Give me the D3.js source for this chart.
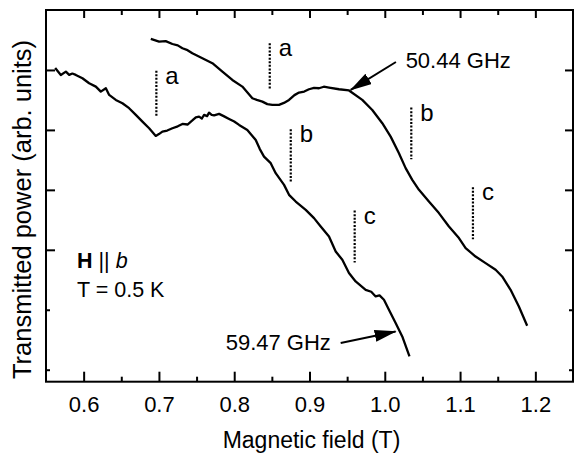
<!DOCTYPE html>
<html><head><meta charset="utf-8">
<script src="https://cdn.jsdelivr.net/npm/d3@7"></script>
<style>
html,body{margin:0;padding:0;background:#fff;}
svg{display:block;font-family:"Liberation Sans",Arial,sans-serif;}
</style></head>
<body>
<svg id="chart" width="574" height="454"></svg>
<script>
// ---- data ----
const field5947 = [0.5622,0.5697,0.5764,0.5808,0.5850,0.5896,0.5984,0.6073,0.6162,0.6228,0.6295,0.6339,0.6427,0.6515,0.6604,0.6693,0.6781,0.6870,0.6958,0.7000,0.7046,0.7110,0.7179,0.7250,0.7312,0.7380,0.7444,0.7490,0.7533,0.7570,0.7600,0.7640,0.7666,0.7700,0.7733,0.7799,0.7860,0.7932,0.8000,0.8065,0.8174,0.8286,0.8340,0.8396,0.8485,0.8551,0.8662,0.8728,0.8817,0.8950,0.9060,0.9149,0.9259,0.9348,0.9436,0.9524,0.9613,0.9746,0.9820,0.9879,0.9930,0.9989,1.0055,1.0144,1.0232,1.0328];
const power5947 = [5.033,4.917,4.972,4.917,4.940,4.917,4.862,4.778,4.722,4.638,4.695,4.583,4.500,4.445,4.362,4.250,4.138,4.028,3.900,3.930,3.972,3.990,4.028,4.060,4.100,4.090,4.158,4.210,4.222,4.190,4.250,4.230,4.288,4.250,4.242,4.267,4.230,4.183,4.140,4.083,4.000,3.833,3.680,3.555,3.445,3.278,3.083,2.917,2.805,2.667,2.528,2.388,2.222,1.972,1.833,1.612,1.472,1.333,1.300,1.222,1.240,1.167,1.000,0.778,0.555,0.222];

const field5044 = [0.6892,0.7002,0.7090,0.7179,0.7250,0.7312,0.7380,0.7444,0.7577,0.7710,0.7843,0.7975,0.8108,0.8241,0.8300,0.8374,0.8440,0.8506,0.8595,0.8660,0.8728,0.8800,0.8861,0.8930,0.8993,0.9060,0.9126,0.9190,0.9259,0.9392,0.9525,0.9701,0.9834,0.9967,1.0078,1.0188,1.0277,1.0365,1.0454,1.0586,1.0719,1.0852,1.0985,1.1074,1.1206,1.1339,1.1472,1.1559,1.1671,1.1781,1.1891];
const power5044 = [5.517,5.472,5.480,5.433,5.410,5.362,5.330,5.278,5.195,5.112,4.972,4.833,4.722,4.528,4.500,4.472,4.430,4.417,4.417,4.450,4.500,4.580,4.622,4.640,4.678,4.700,4.695,4.720,4.705,4.678,4.658,4.500,4.333,4.112,3.888,3.612,3.362,3.167,3.000,2.805,2.612,2.388,2.195,2.028,1.888,1.778,1.667,1.555,1.333,1.055,0.733];

// resonance markers: field, top, bottom, label
const markerFields = [0.6966, 0.8472, 0.8751, 0.9600, 1.0352, 1.1171];
const markerTops   = [4.988, 5.445, 4.012, 2.655, 4.372, 3.045];
const markerBottoms= [4.212, 4.678, 3.138, 1.788, 3.512, 2.178];
const markerLabels = ["a", "a", "b", "c", "b", "c"];

// frequency labels with arrows: text, text position, arrow tail, arrow tip
const freqLabels = ["50.44 GHz", "59.47 GHz"];
const freqTextX  = [1.0277, 0.9284];
const freqTextY  = [5.028, 0.333];
const arrowTailX = [1.0148, 0.9414];
const arrowTailY = [5.133, 0.445];
const arrowTipX  = [0.9547, 1.0144];
const arrowTipY  = [4.667, 0.638];

const xMajorTicks = [0.6, 0.7, 0.8, 0.9, 1.0, 1.1, 1.2];
const xMinorTicks = [0.65, 0.75, 0.85, 0.95, 1.05, 1.15];
const yLongTicks  = [2, 3, 4, 5];
const yShortTicks = [0, 1];

const xTitle = "Magnetic field (T)";
const yTitle = "Transmitted power (arb. units)";

// ---- drawing ----
const svg = d3.select("#chart");
const L = 46, R = 573, T = 10, B = 381.7;
const x = d3.scaleLinear().domain([0.55, 1.25]).range([L, R]);
const y = d3.scaleLinear().domain([-0.2, 6.0]).range([B, T]);

const defs = svg.append("defs");
defs.append("marker").attr("id","arrow").attr("markerUnits","userSpaceOnUse")
  .attr("markerWidth",24).attr("markerHeight",14).attr("refX",21).attr("refY",6)
  .attr("orient","auto")
  .append("path").attr("d","M0,0 L22,6 L0,12 Z").attr("fill","#000");

// axes
const fmt = d3.format(".1f");
const bottom = d3.axisBottom(x).tickValues(xMajorTicks).tickFormat(fmt).tickSizeInner(-10).tickSizeOuter(0).tickPadding(17);
const gb = svg.append("g").attr("transform",`translate(0,${B})`).call(bottom);
gb.select(".domain").remove();
gb.selectAll("text").attr("font-size",22).attr("fill","#000").attr("dy",0).attr("y",30)
  .style("font-family","'Liberation Sans',Arial,sans-serif");
gb.selectAll("line").attr("stroke","#000").attr("stroke-width",2);
const gbm = svg.append("g").attr("transform",`translate(0,${B})`)
  .call(d3.axisBottom(x).tickValues(xMinorTicks).tickFormat("").tickSizeInner(-5).tickSizeOuter(0));
gbm.select(".domain").remove();
gbm.selectAll("line").attr("stroke","#000").attr("stroke-width",2);

const gt = svg.append("g").attr("transform",`translate(0,${T})`)
  .call(d3.axisTop(x).tickValues(xMajorTicks).tickFormat("").tickSizeInner(-8).tickSizeOuter(0));
gt.select(".domain").remove();
gt.selectAll("line").attr("stroke","#000").attr("stroke-width",2);
const gtm = svg.append("g").attr("transform",`translate(0,${T})`)
  .call(d3.axisTop(x).tickValues(xMinorTicks).tickFormat("").tickSizeInner(-5).tickSizeOuter(0));
gtm.select(".domain").remove();
gtm.selectAll("line").attr("stroke","#000").attr("stroke-width",2);

function yAx(axisFn, pos, vals, len){
  const g = svg.append("g").attr("transform",`translate(${pos},0)`)
    .call(axisFn(y).tickValues(vals).tickFormat("").tickSizeInner(-len).tickSizeOuter(0));
  g.select(".domain").remove();
  g.selectAll("line").attr("stroke","#000").attr("stroke-width",2);
}
yAx(d3.axisLeft, L, yLongTicks, 9);
yAx(d3.axisLeft, L, yShortTicks, 4);
yAx(d3.axisRight, R, yLongTicks, 8);
yAx(d3.axisRight, R, yShortTicks, 4);

// frame
svg.append("rect").attr("x",L).attr("y",T).attr("width",R-L).attr("height",B-T)
  .attr("fill","none").attr("stroke","#000").attr("stroke-width",2);

// curves
const line = d3.line().x(d=>x(d[0])).y(d=>y(d[1]));
const curves = [d3.zip(field5947, power5947), d3.zip(field5044, power5044)];
svg.selectAll("path.curve").data(curves).enter().append("path").attr("class","curve")
  .attr("d",line).attr("fill","none").attr("stroke","#000").attr("stroke-width",2.3)
  .attr("stroke-linejoin","round");

// markers
markerFields.forEach((f,i)=>{
  svg.append("line").attr("x1",x(f)).attr("x2",x(f)).attr("y1",y(markerTops[i])).attr("y2",y(markerBottoms[i]))
    .attr("stroke","#000").attr("stroke-width",2.2).attr("stroke-dasharray","2,1.6");
  svg.append("text").attr("x",x(f)+9).attr("y",y(markerTops[i])+13).attr("font-size",24).attr("fill","#000")
    .text(markerLabels[i]);
});

// frequency labels and arrows
freqLabels.forEach((t,i)=>{
  svg.append("text").attr("x",x(freqTextX[i])).attr("y",y(freqTextY[i]))
    .attr("text-anchor", i===0 ? "start" : "end").attr("font-size",22).attr("fill","#000").text(t);
  svg.append("line").attr("x1",x(arrowTailX[i])).attr("y1",y(arrowTailY[i]))
    .attr("x2",x(arrowTipX[i])).attr("y2",y(arrowTipY[i]))
    .attr("stroke","#000").attr("stroke-width",2).attr("marker-end","url(#arrow)");
});

// condition annotation
const ann = svg.append("text").attr("x",77).attr("y",268).attr("font-size",21.5).attr("fill","#000");
ann.append("tspan").attr("font-weight","bold").text("H");
ann.append("tspan").text(" || ");
ann.append("tspan").attr("font-style","italic").text("b");
svg.append("text").attr("x",77).attr("y",297).attr("font-size",21.5).attr("fill","#000").text("T = 0.5 K");

// titles
svg.append("text").attr("x",(L+R)/2+2).attr("y",448).attr("text-anchor","middle")
  .attr("font-size",23).attr("fill","#000").text(xTitle);
svg.append("text").attr("transform","translate(31,209.5) rotate(-90)").attr("text-anchor","middle")
  .attr("font-size",25.5).attr("fill","#000").text(yTitle);
</script>
</body></html>
